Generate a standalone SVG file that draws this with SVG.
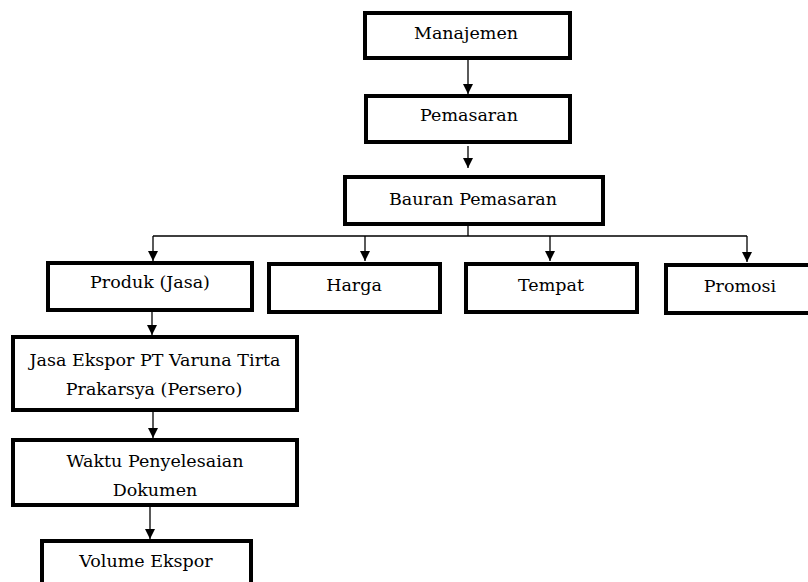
<svg xmlns="http://www.w3.org/2000/svg" width="808" height="582" viewBox="0 0 808 582">
<style>
.box{fill:#fff;stroke:#000;stroke-width:4}
.t{font-family:'DejaVu Serif',serif;font-size:17.5px;fill:#000;text-anchor:middle}
.c{stroke:#000;stroke-width:1.3;fill:none}
</style>
<defs>
<marker id="ah" markerUnits="userSpaceOnUse" markerWidth="12" markerHeight="12" viewBox="0 0 12 12" refX="11" refY="6" orient="auto">
<path d="M1,1 L11,6 L1,11 Z" fill="#000"/>
</marker>
</defs>
<rect width="808" height="582" fill="#fff"/>
<g id="connectors">
<path class="c" d="M468,58 V94" marker-end="url(#ah)"/>
<path class="c" d="M468,146 V168" marker-end="url(#ah)"/>
<path class="c" d="M468,224 V236 M153,236 H747"/>
<path class="c" d="M153,236 V261" marker-end="url(#ah)"/>
<path class="c" d="M365,236 V261" marker-end="url(#ah)"/>
<path class="c" d="M550,236 V261" marker-end="url(#ah)"/>
<path class="c" d="M747,236 V262" marker-end="url(#ah)"/>
<path class="c" d="M152,310 V335" marker-end="url(#ah)"/>
<path class="c" d="M153,410 V438" marker-end="url(#ah)"/>
<path class="c" d="M150,505 V539" marker-end="url(#ah)"/>
</g>
<g id="manajemen"><rect class="box" x="365" y="13" width="205" height="45"/><text class="t" x="466" y="39">Manajemen</text></g>
<g id="pemasaran"><rect class="box" x="366" y="96" width="204" height="46"/><text class="t" x="469" y="121">Pemasaran</text></g>
<g id="bauran"><rect class="box" x="345" y="177" width="258" height="47"/><text class="t" x="473" y="205">Bauran Pemasaran</text></g>
<g id="produk"><rect class="box" x="48" y="263" width="204" height="47"/><text class="t" x="150" y="288">Produk (Jasa)</text></g>
<g id="harga"><rect class="box" x="269" y="264" width="171" height="48"/><text class="t" x="354" y="291">Harga</text></g>
<g id="tempat"><rect class="box" x="466" y="264" width="171" height="48"/><text class="t" x="551" y="291">Tempat</text></g>
<g id="promosi"><rect class="box" x="666" y="265" width="150" height="48"/><text class="t" x="740" y="292">Promosi</text></g>
<g id="jasa"><rect class="box" x="13" y="337" width="284" height="73"/><text class="t" x="155" y="366">Jasa Ekspor PT Varuna Tirta</text><text class="t" x="154" y="395">Prakarsya (Persero)</text></g>
<g id="waktu"><rect class="box" x="13" y="440" width="284" height="65"/><text class="t" x="155" y="467">Waktu Penyelesaian</text><text class="t" x="155" y="496">Dokumen</text></g>
<g id="volume"><rect class="box" x="42" y="541" width="209" height="60"/><text class="t" x="146" y="567">Volume Ekspor</text></g>
</svg>
